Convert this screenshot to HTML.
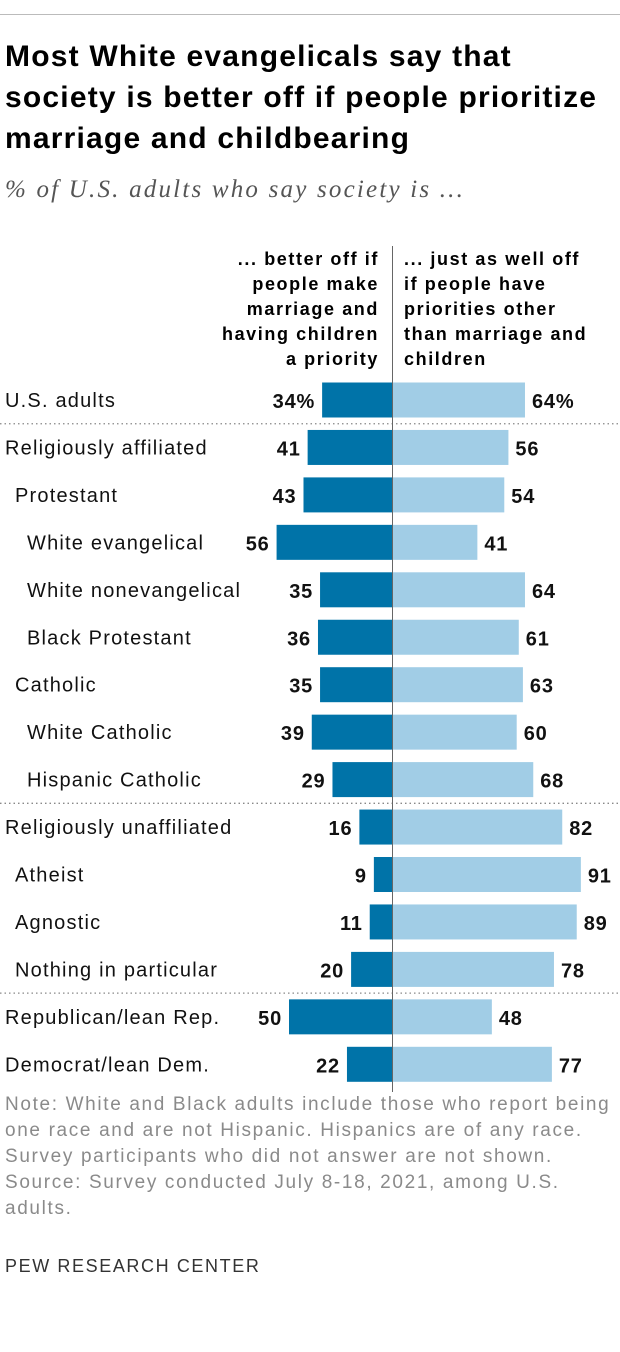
<!DOCTYPE html>
<html><head><meta charset="utf-8">
<style>
body{margin:0;width:620px;height:1352px;background:#fff;font-family:"Liberation Sans",sans-serif;position:relative;overflow:hidden}
.abs{position:absolute;white-space:nowrap}
.title{left:5px;font-size:30px;font-weight:bold;color:#000;line-height:41px;letter-spacing:1.2px}
.hdr{font-size:18px;font-weight:bold;color:#000;line-height:25px;letter-spacing:1.6px}
.note{left:5px;font-size:19px;color:#8a8a8a;line-height:26px;letter-spacing:1.65px}
</style></head><body>
<div class="abs" style="left:0;top:14px;width:620px;height:1px;background:#bbb"></div>
<div class="abs title" style="top:36px">Most White evangelicals say that<br>society is better off if people prioritize<br>marriage and childbearing</div>
<div class="abs" style="left:5px;top:176px;font-family:'Liberation Serif',serif;font-style:italic;font-size:25px;letter-spacing:2.2px;color:#555">% of U.S. adults who say society is ...</div>
<div class="abs hdr" style="right:241px;top:247px;text-align:right">... better off if<br>people make<br>marriage and<br>having children<br>a priority</div>
<div class="abs hdr" style="left:404px;top:247px">... just as well off<br>if people have<br>priorities other<br>than marriage and<br>children</div>
<svg id="chart" class="abs" style="left:0;top:0" width="620" height="1100"></svg>
<div class="abs note" style="top:1092px">Note: White and Black adults include those who report being<br>one race and are not Hispanic. Hispanics are of any race.<br>Survey participants who did not answer are not shown.<br>Source: Survey conducted July 8-18, 2021, among U.S.<br>adults.</div>
<div class="abs" style="left:5px;top:1256px;font-size:18px;color:#333;letter-spacing:1.6px">PEW RESEARCH CENTER</div>
<script>
const categories=["U.S. adults","Religiously affiliated","Protestant","White evangelical","White nonevangelical","Black Protestant","Catholic","White Catholic","Hispanic Catholic","Religiously unaffiliated","Atheist","Agnostic","Nothing in particular","Republican/lean Rep.","Democrat/lean Dem."];
const indents=[0,0,1,2,2,2,1,2,2,0,1,1,1,0,0];
const betterOff=[34,41,43,56,35,36,35,39,29,16,9,11,20,50,22];
const justAsWell=[64,56,54,41,64,61,63,60,68,82,91,89,78,48,77];
const separatorsAfter=[0,8,12];
const NS="http://www.w3.org/2000/svg";
const svg=document.getElementById('chart');
const cx=392.5, scale=2.07, y0=400, step=47.45, bh=35;
const xL=v=>cx-v*scale, xR=v=>cx+v*scale, yC=i=>y0+i*step;
function mk(t,a){const e=document.createElementNS(NS,t);for(const k in a)e.setAttribute(k,a[k]);svg.appendChild(e);return e;}
categories.forEach((c,i)=>{
  const y=yC(i);
  let t=mk('text',{x:[5,15,27][indents[i]],y:y+7,'font-size':20,'letter-spacing':1.2,fill:'#111'});t.textContent=c;
  
  
  let r=mk('rect',{x:xL(betterOff[i]),y:y-bh/2,width:betterOff[i]*scale,height:bh,fill:'#0073a8'});
  
  
  r=mk('rect',{x:cx,y:y-bh/2,width:justAsWell[i]*scale,height:bh,fill:'#a1cde6'});
  
  
  t=mk('text',{x:xL(betterOff[i])-7,y:y+8,'font-size':20,'font-weight':'bold','letter-spacing':0.8,'text-anchor':'end',fill:'#111'});
  t.textContent=betterOff[i]+(i===0?'%':'');
  
  
  t=mk('text',{x:xR(justAsWell[i])+7,y:y+8,'font-size':20,'font-weight':'bold','letter-spacing':0.8,fill:'#111'});
  t.textContent=justAsWell[i]+(i===0?'%':'');
  
  
});
separatorsAfter.forEach(i=>{
  const y=(yC(i)+yC(i+1))/2;
  const l=mk('line',{x1:0,x2:620,y1:y,y2:y,stroke:'#888','stroke-width':1.3,'stroke-dasharray':'1.5,3'});
  
  
});
const ax=mk('line',{x1:cx,x2:cx,y1:246,y2:1092,stroke:'#666','stroke-width':1});


</script>
</body></html>
